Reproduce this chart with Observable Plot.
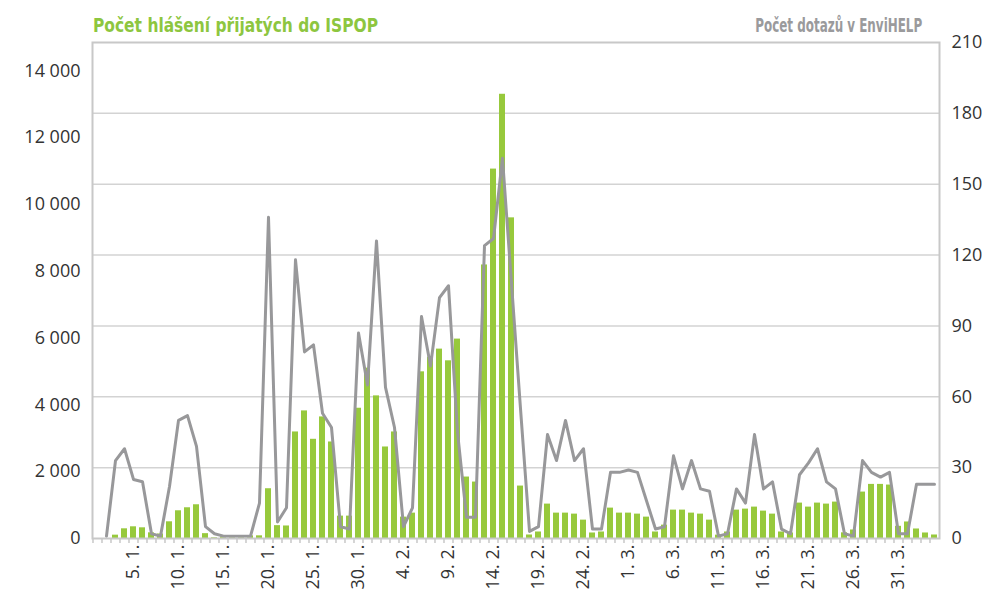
<!DOCTYPE html>
<html><head><meta charset="utf-8">
<script src="https://cdn.jsdelivr.net/npm/d3@7"></script>
<script src="https://cdn.jsdelivr.net/npm/@observablehq/plot@0.6"></script>
<style>
body{margin:0;background:#fff;}
#wrap{position:relative;width:983px;height:591px;overflow:hidden;font-family:"Open Sans",sans-serif;}
#wrap svg{position:absolute;left:0;top:0;}
.ttl{position:absolute;top:13px;font-family:"Liberation Sans Narrow","DejaVu Sans Condensed","Roboto",sans-serif;font-weight:bold;font-size:19px;white-space:nowrap;line-height:24px;}
#t1{left:93px;color:#8dc63f;transform-origin:left top;}
#t2{right:61px;color:#9a9a9c;transform-origin:right top;}
</style></head><body>
<div id="wrap"><div id="t1" class="ttl">Počet hlášení přijatých do ISPOP</div><div id="t2" class="ttl">Počet dotazů v EnviHELP</div></div>
<script>
// months of the x axis: [month number, days shown]
const months = [[1, 31], [2, 28], [3, 31], [4, 4]];

// Počet hlášení přijatých do ISPOP (left axis, bars)
const barsJan = [0, 0, 100, 290, 350, 320, 170, 135, 500, 830, 920, 1010, 145, 20, 50, 50, 50, 80, 80, 1490, 385, 375, 3190, 3820, 2970, 3640, 2890, 670, 670, 3900, 5100];
const barsFeb = [4270, 2740, 3190, 640, 760, 4990, 5430, 5670, 5320, 5970, 1840, 1690, 8190, 11060, 13300, 9600, 1570, 105, 195, 1030, 760, 760, 730, 550, 165, 195, 910, 760];
const barsMar = [760, 730, 640, 195, 400, 850, 850, 760, 730, 550, 100, 195, 850, 880, 940, 820, 730, 195, 165, 1060, 940, 1060, 1030, 1090, 170, 255, 1390, 1620, 1620, 1600, 365];
const barsApr = [495, 285, 165, 105];

// Počet dotazů v EnviHELP (right axis, line)
const lineJan = [null, 1, 33, 38, 25, 24, 2, 1, 22, 50, 52, 39, 5, 2, 1, 1, 1, 1, 15, 136, 7, 13, 118, 79, 82, 53, 47, 5, 4, 87, 65];
const lineFeb = [126, 64, 47, 5, 13, 94, 73, 102, 107, 45, 9, 9, 124, 127, 161, 108, 55, 3, 5, 44, 33, 50, 33, 38, 4, 4, 28, 28];
const lineMar = [29, 28, 16, 4, 5, 35, 21, 33, 21, 20, 1, 2, 21, 15, 44, 21, 24, 4, 2, 27, 32, 38, 24, 21, 2, 1, 33, 28, 26, 28, 2];
const lineApr = [2, 23, 23, 23];

// axis ticks
const leftTicks = [0, 2000, 4000, 6000, 8000, 10000, 12000, 14000];
const rightTicks = [0, 30, 60, 90, 120, 150, 180, 210];
const tickLabels = ["5. 1.", "10. 1.", "15. 1.", "20. 1.", "25. 1.", "30. 1.", "4. 2.", "9. 2.", "14. 2.", "19. 2.", "24. 2.", "1. 3.", "6. 3.", "11. 3.", "16. 3.", "21. 3.", "26. 3.", "31. 3."];

const categories = months.flatMap(([m, n]) => d3.range(1, n + 1).map(d => `${d}. ${m}.`));
const bars = [...barsJan, ...barsFeb, ...barsMar, ...barsApr];
const line = [...lineJan, ...lineFeb, ...lineMar, ...lineApr];
const data = categories.map((c, i) => ({c, b: bars[i], l: line[i]}));

const yMax = 14850;
const k = yMax / 210;
const W = 983, H = 591, mL = 92, mR = 44, mT = 42, mB = 53;
const step = (W - mL - mR) / categories.length;
const fmt = d => d3.format(",")(d).replace(/,/g, " ");

const chart = Plot.plot({
  width: W, height: H,
  marginTop: mT, marginBottom: mB, marginLeft: mL, marginRight: mR,
  style: {fontFamily: "'Open Sans', sans-serif", fontSize: "18px", color: "#333", background: "transparent", overflow: "visible"},
  x: {domain: categories, paddingInner: 0.34, paddingOuter: 0.17, label: null},
  y: {domain: [0, yMax], label: null},
  marks: [
    Plot.gridY(rightTicks.slice(1, -1).map(v => v * k), {stroke: "#d3d3d3", strokeOpacity: 1, strokeWidth: 1.5}),
    Plot.barY(data, {x: "c", y: "b", fill: "#97c93c"}),
    Plot.line(data, {x: "c", y: d => d.l == null ? NaN : d.l * k, stroke: "#98989a", strokeWidth: 3, strokeLinejoin: "round"}),
    Plot.frame({stroke: "#c8c8c8", strokeWidth: 2}),
    Plot.axisY(leftTicks, {anchor: "left", tickSize: 0, tickPadding: 12, tickFormat: fmt, label: null}),
    Plot.axisY(rightTicks.map(v => v * k), {anchor: "right", tickSize: 0, tickPadding: 12, tickFormat: d => String(Math.round(d / k)), label: null}),
    Plot.axisX(categories, {tickSize: 5, tickFormat: () => "", dx: -step / 2, stroke: "#c8c8c8", strokeWidth: 1.5, label: null}),
    Plot.axisX(tickLabels, {tickSize: 0, tickRotate: -90, tickPadding: 6, label: null})
  ]
});
document.getElementById("wrap").prepend(chart);

// fit the condensed titles to their measured widths
function fit(id, target) {
  const el = document.getElementById(id);
  const w = el.getBoundingClientRect().width;
  el.style.transform = `scaleX(${target / w})`;
}
fit("t1", 285);
fit("t2", 167);
</script>
</body></html>
